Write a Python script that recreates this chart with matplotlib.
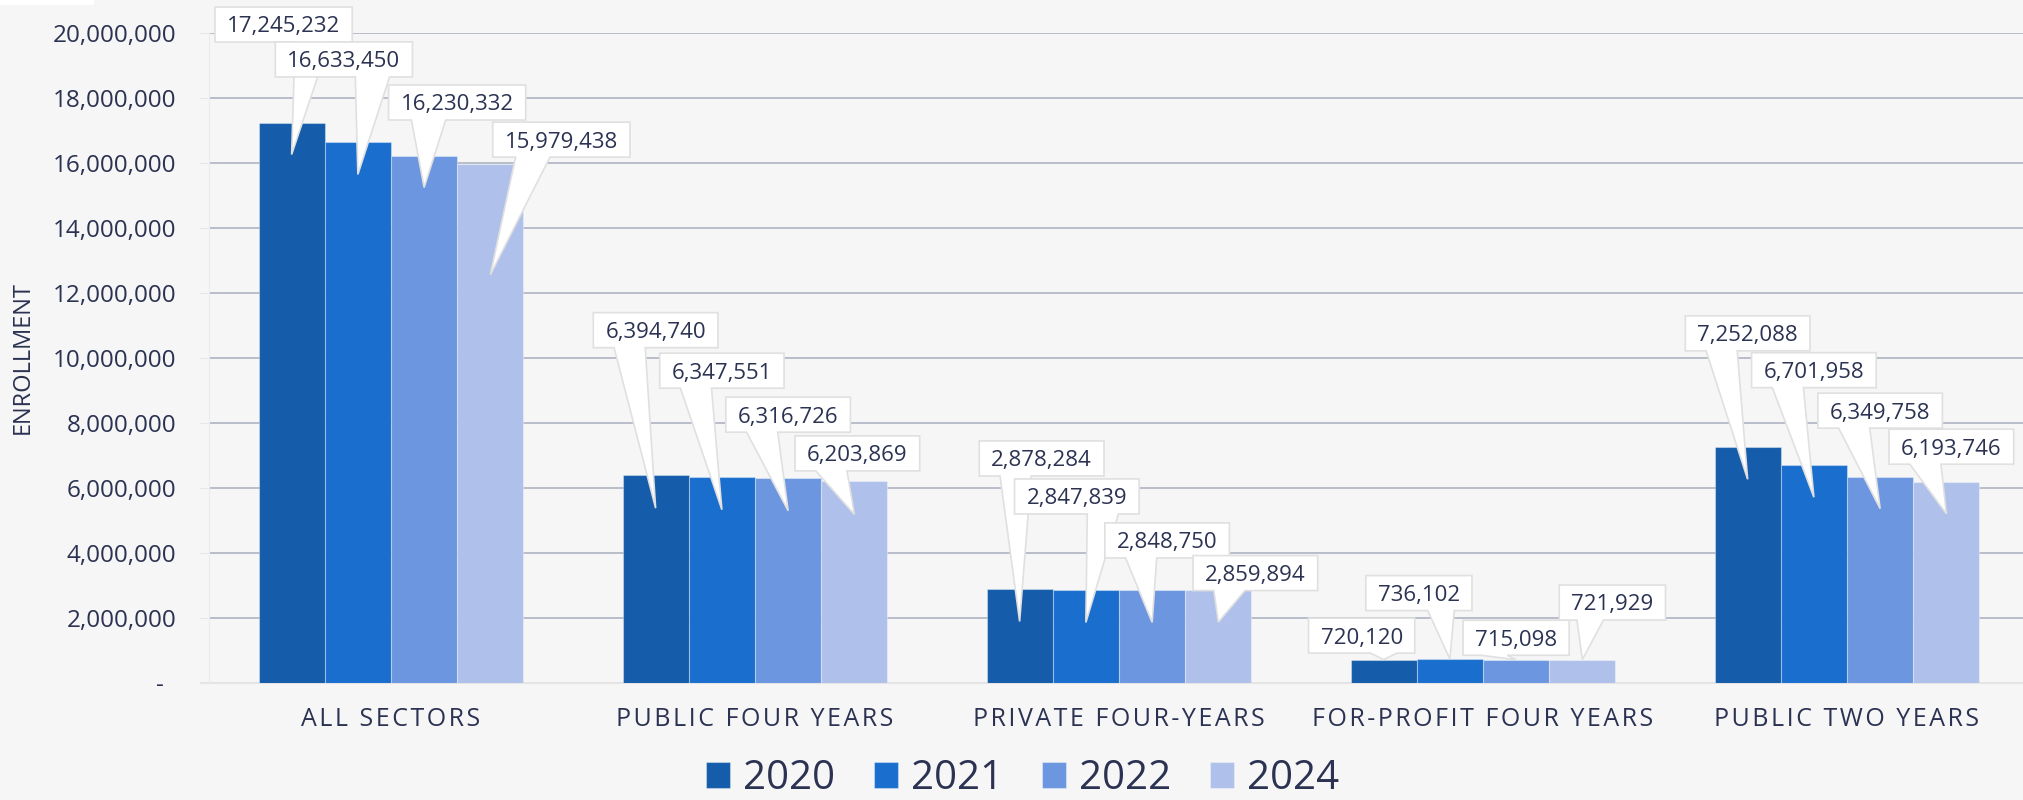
import matplotlib.pyplot as plt
from matplotlib.patches import Polygon, Rectangle
from matplotlib.ticker import FuncFormatter
import numpy as np

# data
sectors = ['ALL SECTORS', 'PUBLIC FOUR YEARS', 'PRIVATE FOUR-YEARS',
           'FOR-PROFIT FOUR YEARS', 'PUBLIC TWO YEARS']
years = ['2020', '2021', '2022', '2024']
enroll_2020 = [17245232, 6394740, 2878284, 720120, 7252088]
enroll_2021 = [16633450, 6347551, 2847839, 736102, 6701958]
enroll_2022 = [16230332, 6316726, 2848750, 715098, 6349758]
enroll_2024 = [15979438, 6203869, 2859894, 721929, 6193746]
series = [enroll_2020, enroll_2021, enroll_2022, enroll_2024]

# styling
BG = '#F6F6F6'
TEXT = '#2B3252'
GRID = '#A9ADBF'
colors = ['#155CAA', '#1A6FCE', '#6C96E0', '#AFC0EA']

# callout layout in pixels, one row per sector, one entry per year:
# box centre offset from the bar top, and how deep the pointer goes into the bar
box_dx = [[-8, -14, 33, 71], [0, 0, 0, 3], [22, -9, 15, 37], [-22, -31, 0, 30], [0, 0, 0, 5]]
box_dy = [[98, 83, 53, 24], [145, 106, 63, 28], [131, 94, 50, 17], [24, 66, 22, 57], [114, 95, 66, 35]]
tip_depth = [[32, 32, 32, 111], [33, 33, 33, 33], [32, 32, 32, 32], [0, 0, 0, 0], [32, 32, 32, 32]]

plt.rcParams['font.family'] = ['Open Sans', 'DejaVu Sans']

W, H = 2024, 800
fig = plt.figure(figsize=(W / 100, H / 100), dpi=100, facecolor=BG)
ax = fig.add_axes([209 / W, 117 / H, (W - 209) / W, 650 / H], facecolor=BG)

x = np.arange(len(sectors))
bw = 0.182
bars = []
for j, vals in enumerate(series):
    b = ax.bar(x + (j - 1.5) * bw, vals, bw, color=colors[j],
               edgecolor=(1, 1, 1, 0.35), linewidth=0.8, zorder=2)
    bars.append(b)

ax.set_xlim(-0.5, -0.5 + (W - 209) / 364)
ax.set_ylim(0, 20000000)
ax.set_yticks(np.arange(0, 20000001, 2000000))
ax.yaxis.set_major_formatter(FuncFormatter(lambda v, p: '-  ' if v == 0 else f'{v:,.0f}'))
ax.tick_params(axis='y', length=6.5, color='#E6E6E6', pad=17, labelsize=17.5, labelcolor=TEXT)

ax.set_xticks(x)
ax.set_xticklabels(['\u200a'.join(s) for s in sectors])
ax.tick_params(axis='x', length=0, pad=17, labelsize=18, labelcolor=TEXT)

ax.yaxis.grid(True, color=GRID, linewidth=1.1)
ax.set_axisbelow(True)
ax.get_ygridlines()[0].set_visible(False)
ax.axhline(0, xmin=-0.0045, color='#E4E4E4', lw=1.5, clip_on=False, zorder=1)
for s in ['top', 'right', 'bottom']:
    ax.spines[s].set_visible(False)
ax.spines['left'].set_color('#EBEBEB')

fig.text(23 / W, 1 - 358 / H, 'ENROLLMENT', rotation=90, ha='center', va='center',
         fontsize=17, color=TEXT)

# callouts: white box with a wedge pointer (Office wedgeRectCallout rule)
renderer = fig.canvas.get_renderer()
inv = ax.transData.inverted()
fs = 16
cap = fs * 100 / 72 * 0.714
z = 5
for i in range(len(sectors)):
    for j, vals in enumerate(series):
        v = vals[i]
        bx, by = ax.transData.transform((x[i] + (j - 1.5) * bw, v))
        cx, cy = bx + box_dx[i][j], by + box_dy[i][j]
        tx, ty = bx, by - tip_depth[i][j]
        tpos = inv.transform((cx, cy - cap / 2))
        t = ax.text(tpos[0], tpos[1], f'{v:,.0f}', ha='center', va='baseline',
                    fontsize=fs, color=TEXT, zorder=z + 1, clip_on=False)
        tw = t.get_window_extent(renderer).width
        w, h = tw + 24, 35
        L, R, B, T = cx - w / 2, cx + w / 2, cy - h / 2, cy + h / 2
        dxp, dyp = tx - cx, ty - cy
        dq = dxp * h / w
        if abs(dyp) > abs(dq):
            xa = L + w * (7 if dxp > 0.5 else 2) / 12
            xb = L + w * (10 if dxp > 0.5 else 5) / 12
            if dyp < 0:
                pts = [(L, T), (R, T), (R, B), (xb, B), (tx, ty), (xa, B), (L, B)]
            else:
                pts = [(L, B), (R, B), (R, T), (xb, T), (tx, ty), (xa, T), (L, T)]
        else:
            ya = B + h * (7 if dyp > 0 else 2) / 12
            yb = B + h * (10 if dyp > 0 else 5) / 12
            if dxp > 0:
                pts = [(L, B), (R, B), (R, ya), (tx, ty), (R, yb), (R, T), (L, T)]
            else:
                pts = [(R, B), (L, B), (L, ya), (tx, ty), (L, yb), (L, T), (R, T)]
        poly = Polygon(inv.transform(pts), closed=True, facecolor='white',
                       edgecolor='#E0E0E0', linewidth=1.2, zorder=z, clip_on=False)
        ax.add_patch(poly)
        z += 2

fig.legend([b[0] for b in bars], years, loc='center', bbox_to_anchor=(1022.5 / W, 21 / H),
           ncol=4, frameon=False, fontsize=29, handlelength=0.6, handleheight=0.6,
           handletextpad=0.32, columnspacing=0.97, borderpad=0, labelcolor=TEXT)

# small white corner at the top left of the screenshot
fig.add_artist(Rectangle((0, 1 - 5 / H), 94 / W, 5 / H, transform=fig.transFigure,
                         facecolor='white', edgecolor='none'))

fig.savefig('out.png', dpi=100, facecolor=BG)
